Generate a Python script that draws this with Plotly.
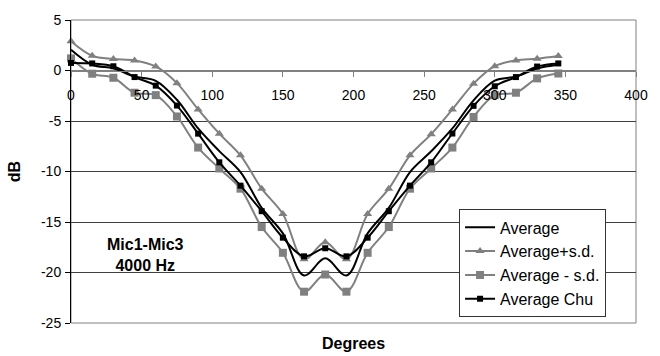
import plotly.graph_objects as go

degrees = [0, 15, 30, 45, 60, 75, 90, 105, 120, 135, 150, 165, 180, 195,
           210, 225, 240, 255, 270, 285, 300, 315, 330, 345]

average = [2.05, 0.57, 0.21, -0.6, -1.02, -2.9, -5.74, -7.98, -10.05, -13.6,
           -16.13, -20.3, -18.6, -20.3, -16.13, -13.6, -10.05, -8.0, -5.74,
           -2.95, -1.0, -0.6, 0.2, 0.57]
average_plus_sd = [2.9, 1.46, 1.14, 1.0, 0.4, -1.25, -3.85, -6.25, -8.4, -11.7,
                   -14.2, -18.7, -17.0, -18.7, -14.2, -11.7, -8.4, -6.3, -3.85,
                   -1.3, 0.43, 1.0, 1.17, 1.43]
average_minus_sd = [1.2, -0.32, -0.72, -2.2, -2.44, -4.55, -7.63, -9.7, -11.7,
                    -15.5, -18.05, -21.9, -20.2, -21.9, -18.05, -15.5, -11.7,
                    -9.7, -7.63, -4.6, -2.44, -2.2, -0.78, -0.3]
average_chu = [0.75, 0.7, 0.42, -0.65, -1.5, -3.47, -6.25, -9.09, -11.4, -13.93,
               -16.55, -18.4, -17.6, -18.4, -16.55, -13.93, -11.4, -9.09, -6.24,
               -3.5, -1.56, -0.65, 0.39, 0.7]

x_ticks = [0, 50, 100, 150, 200, 250, 300, 350, 400]
y_ticks = [5, 0, -5, -10, -15, -20, -25]

GRAY = "#808080"
FONT = "Liberation Sans, Arial, sans-serif"

fig = go.Figure()
fig.add_trace(go.Scatter(
    x=degrees, y=average, name="Average", mode="lines",
    line=dict(color="black", width=2, shape="spline", smoothing=1),
    cliponaxis=False, legendrank=1))
fig.add_trace(go.Scatter(
    x=degrees, y=average_plus_sd, name="Average+s.d.", mode="lines+markers",
    line=dict(color=GRAY, width=2, shape="spline", smoothing=1),
    marker=dict(symbol="triangle-up", size=8, color=GRAY),
    cliponaxis=False, legendrank=2))
fig.add_trace(go.Scatter(
    x=degrees, y=average_minus_sd, name="Average - s.d.", mode="lines+markers",
    line=dict(color=GRAY, width=2, shape="spline", smoothing=1),
    marker=dict(symbol="square", size=8, color=GRAY),
    cliponaxis=False, legendrank=3))
fig.add_trace(go.Scatter(
    x=degrees, y=average_chu, name="Average Chu", mode="lines+markers",
    line=dict(color="black", width=2, shape="spline", smoothing=1),
    marker=dict(symbol="square", size=6, color="black"),
    cliponaxis=False, legendrank=4))

fig.update_layout(
    width=660, height=356,
    margin=dict(l=71, r=12, t=15, b=33),
    paper_bgcolor="white", plot_bgcolor="white",
    font=dict(family=FONT, size=14, color="black"),
    showlegend=True,
    legend=dict(x=0.947, y=0.375, xanchor="right", yanchor="top",
                bgcolor="white", bordercolor="#333333", borderwidth=1,
                font=dict(size=16, family=FONT), itemwidth=30,
                tracegroupgap=0),
    xaxis=dict(range=[0, 400], tickvals=x_ticks, ticktext=[str(v) for v in x_ticks],
               showgrid=False, zeroline=False, showline=True, linecolor=GRAY,
               linewidth=1, ticks="outside", ticklen=5, tickcolor=GRAY,
               anchor="free", position=25 / 30, ticklabelstandoff=7,
               tickfont=dict(size=14)),
    yaxis=dict(range=[-25, 5], tickvals=y_ticks, ticktext=[str(v) for v in y_ticks],
               showgrid=True, gridcolor="#404040", gridwidth=1,
               zeroline=True, zerolinecolor=GRAY, zerolinewidth=1,
               showline=True, linecolor="black", linewidth=1, ticks="outside",
               ticklen=5, tickcolor="black", tickfont=dict(size=14),
               ticklabelstandoff=1,
               title=dict(text="<b>dB</b>", font=dict(size=16), standoff=16)),
    shapes=[dict(type="rect", xref="x domain", yref="y domain", x0=0, x1=1,
                 y0=0, y1=1, line=dict(color=GRAY, width=1), layer="below")],
    annotations=[
        dict(text="<b>Degrees</b>", xref="paper", yref="paper", x=0.5, y=-0.068,
             xanchor="center", yanchor="middle", showarrow=False,
             font=dict(size=16)),
        dict(text="<b>Mic1-Mic3<br>4000 Hz</b>", xref="x", yref="y", x=52.7, y=-18.25,
             xanchor="center", yanchor="middle", showarrow=False,
             font=dict(size=16)),
    ],
)

fig.write_html("out.html")
